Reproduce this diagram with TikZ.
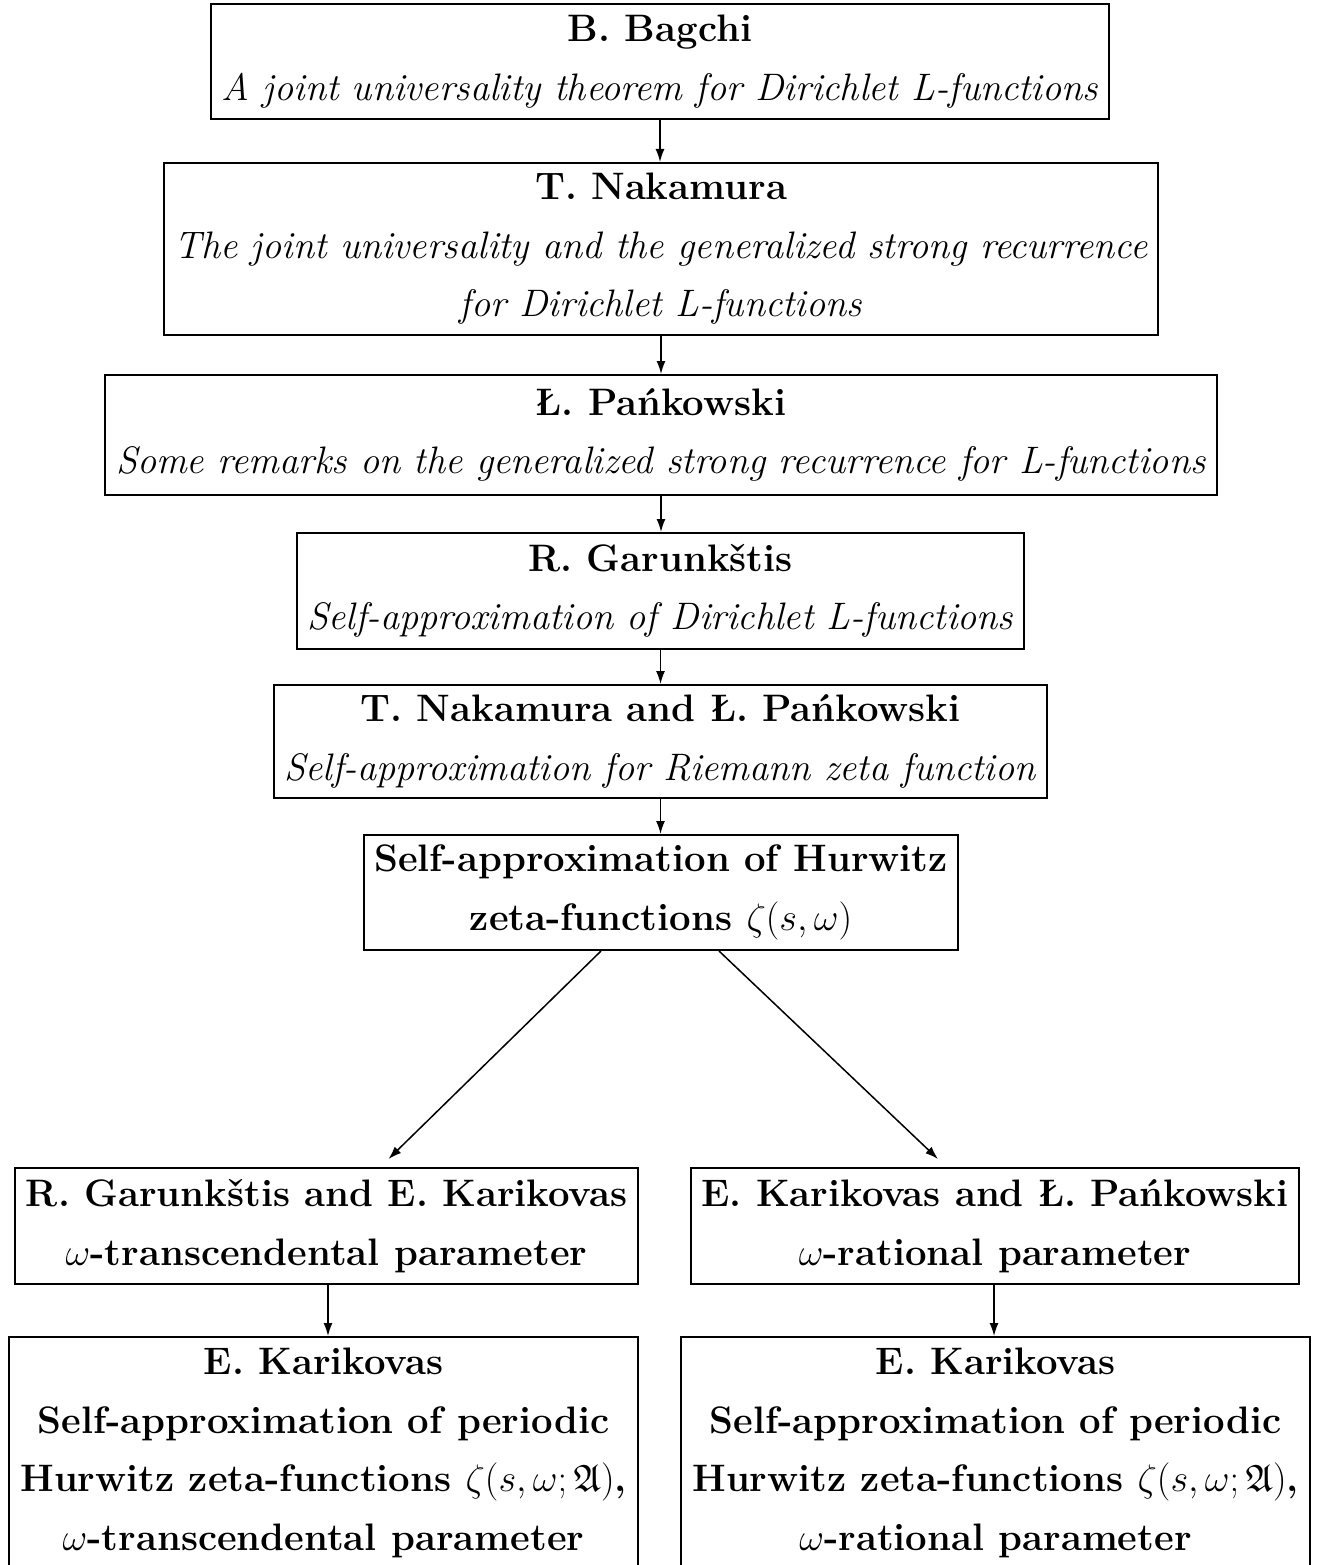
\RequirePackage{fix-cm}
\documentclass[tikz,border=0pt]{standalone}
\usepackage{amssymb}
\usepackage{fontspec}
\usetikzlibrary{arrows.meta}
\begin{document}
\begin{tikzpicture}[x=1pt,y=-1pt,
 box/.style={draw,line width=2pt,inner sep=0pt,align=center,anchor=north west,
   font=\fontsize{38.3}{58.5}\selectfont},
 bbox/.style={box,font=\fontsize{38.3}{58.5}\selectfont\bfseries},
 arr/.style={-{Latex[length=13pt,width=9pt]},line width=1.5pt}]
\useasboundingbox (0,0) rectangle (1321,1565);
\node[box,minimum width=898,minimum height=115] (b1) at (210,3)
  {\textbf{B. Bagchi}\\ \textit{A joint universality theorem for Dirichlet L-functions}};
\node[box,minimum width=994,minimum height=172] (b2) at (163,162)
  {\textbf{T. Nakamura}\\ \textit{The joint universality and the generalized strong recurrence}\\ \textit{for Dirichlet L-functions}};
\node[box,minimum width=1112,minimum height=120] (b3) at (104,374)
  {\textbf{Ł. Pańkowski}\\ \textit{Some remarks on the generalized strong recurrence for L-functions}};
\node[box,minimum width=727,minimum height=116] (b4) at (296,532)
  {\textbf{R. Garunkštis}\\ \textit{Self-approximation of Dirichlet L-functions}};
\node[box,minimum width=773,minimum height=113] (b5) at (273,684)
  {\textbf{T. Nakamura and Ł. Pańkowski}\\ \textit{Self-approximation for Riemann zeta function}};
\node[bbox,minimum width=594,minimum height=115] (b6) at (363,834)
  {Self-approximation of Hurwitz\\ zeta-functions $\zeta(s,\omega)$};
\node[bbox,minimum width=623,minimum height=116] (b7) at (14,1167)
  {R. Garunkštis and E. Karikovas\\ $\omega$-transcendental parameter};
\node[bbox,minimum width=608,minimum height=116] (b8) at (690,1167)
  {E. Karikovas and Ł. Pańkowski\\ $\omega$-rational parameter};
\node[bbox,minimum width=629,minimum height=232] (b9) at (8,1336)
  {E. Karikovas\\ Self-approximation of periodic\\ Hurwitz zeta-functions $\zeta(s,\omega;\mathfrak{A})$,\\ $\omega$-transcendental parameter};
\node[bbox,minimum width=629,minimum height=232] (b10) at (680,1336)
  {E. Karikovas\\ Self-approximation of periodic\\ Hurwitz zeta-functions $\zeta(s,\omega;\mathfrak{A})$,\\ $\omega$-rational parameter};
\draw[arr] (b1.south) -- (b1.south |- b2.north);
\draw[arr] (b2.south) -- (b2.south |- b3.north);
\draw[arr] (b3.south) -- (b3.south |- b4.north);
\draw[arr] (b4.south) -- (b4.south |- b5.north);
\draw[arr] (b5.south) -- (b5.south |- b6.north);
\draw[arr] ([xshift=-60pt]b6.south) -- ([xshift=62pt,yshift=8pt]b7.north);
\draw[arr] ([xshift=58pt]b6.south) -- ([xshift=-57pt,yshift=8pt]b8.north);
\draw[arr] ([xshift=1.5pt]b7.south) -- ([xshift=1.5pt]b7.south |- b9.north);
\draw[arr] ([xshift=-1pt]b8.south) -- ([xshift=-1pt]b8.south |- b10.north);
\end{tikzpicture}
\end{document}
